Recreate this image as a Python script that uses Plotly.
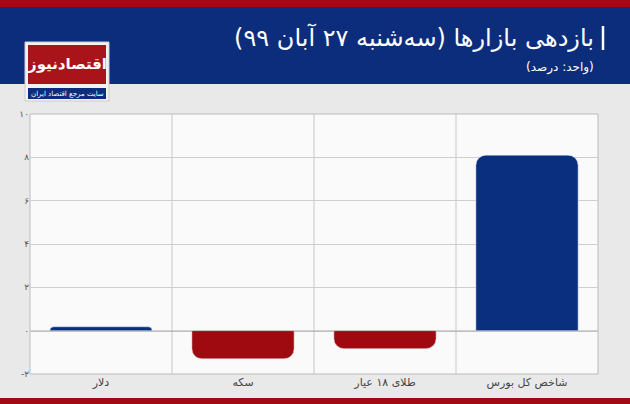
import plotly.graph_objects as go

categories = ["دلار", "سکه", "طلای ۱۸ عیار", "شاخص کل بورس"]
values = [0.18, -1.3, -0.83, 8.1]
colors = ["#0a2f7f", "#9e0a10", "#9e0a10", "#0a2f7f"]
tick_vals = [-2, 0, 2, 4, 6, 8, 10]
tick_text = ["-۲", "۰", "۲", "۴", "۶", "۸", "۱۰"]

W, H = 630, 404
L, R, T, B = 30, 598, 114, 374
def px(x): return (x - L) / (R - L)
def py(y): return (B - y) / (B - T)

fig = go.Figure(go.Bar(x=categories, y=values, marker_color=colors, width=0.72))

shapes = [
    dict(type="rect", xref="paper", yref="paper", x0=px(0), x1=px(W), y0=py(84), y1=py(0), fillcolor="#0c2d7c", line_width=0, layer="below"),
    dict(type="rect", xref="paper", yref="paper", x0=px(0), x1=px(W), y0=py(7), y1=py(0), fillcolor="#a10a12", line_width=0),
    dict(type="rect", xref="paper", yref="paper", x0=px(0), x1=px(W), y0=py(404), y1=py(398), fillcolor="#a10a12", line_width=0),
    dict(type="rect", xref="paper", yref="paper", x0=px(25), x1=px(109), y0=py(101), y1=py(42), fillcolor="#f2f2f2", line=dict(color="#cccccc", width=1)),
    dict(type="rect", xref="paper", yref="paper", x0=px(28), x1=px(106), y0=py(84), y1=py(45), fillcolor="#a8141a", line_width=0),
    dict(type="rect", xref="paper", yref="paper", x0=px(28), x1=px(106), y0=py(99), y1=py(88), fillcolor="#0c2d7c", line_width=0),
    dict(type="line", xref="paper", yref="paper", x0=px(603), x1=px(603), y0=py(26), y1=py(50), line=dict(color="white", width=2.5)),
]
for i in range(1, 4):
    shapes.append(dict(type="line", xref="x", yref="paper", x0=i - 0.5, x1=i - 0.5, y0=0, y1=1, line=dict(color="#c8c8c8", width=1), layer="below"))
shapes.append(dict(type="line", xref="paper", yref="y", x0=0, x1=1, y0=0, y1=0, line=dict(color="#888888", width=1.5), layer="below"))

ann = [
    dict(text="بازدهی بازارها (سه‌شنبه ۲۷ آبان ۹۹)", x=px(596), y=py(38), xanchor="right", yanchor="middle",
         font=dict(family="DejaVu Sans", size=24, color="white")),
    dict(text="(واحد: درصد)", x=px(596), y=py(67), xanchor="right", yanchor="middle",
         font=dict(family="DejaVu Sans", size=12, color="white")),
    dict(text="<b>اقتصادنیوز</b>", x=px(67), y=py(64), xanchor="center", yanchor="middle",
         font=dict(family="DejaVu Sans", size=15, color="white")),
    dict(text="سایت مرجع اقتصاد ایران", x=px(67), y=py(93.5), xanchor="center", yanchor="middle",
         font=dict(family="DejaVu Sans", size=7, color="white")),
]
for a in ann:
    a.update(xref="paper", yref="paper", showarrow=False)

fig.update_layout(
    width=W, height=H, margin=dict(l=L, r=W - R, t=T, b=H - B, autoexpand=False),
    paper_bgcolor="#e9e9e9", plot_bgcolor="#fafafa",
    shapes=shapes, annotations=ann, showlegend=False,
    barcornerradius=10,
    xaxis=dict(showgrid=False, automargin=False, tickfont=dict(family="DejaVu Sans", size=11, color="#444"), showline=False, ticks=""),
    yaxis=dict(range=[-2, 10], automargin=False, tickvals=tick_vals, ticktext=tick_text, gridcolor="#cfcfcf", zeroline=False,
               tickfont=dict(family="DejaVu Sans", size=9, color="#555"), showline=False),
)
fig.add_shape(type="rect", xref="paper", yref="paper", x0=0, x1=1, y0=0, y1=1, line=dict(color="#bbbbbb", width=1), layer="below")
fig.write_html("out.html", config={"displayModeBar": False},
               post_script="document.body.style.margin='0';document.body.style.overflow='hidden';")
